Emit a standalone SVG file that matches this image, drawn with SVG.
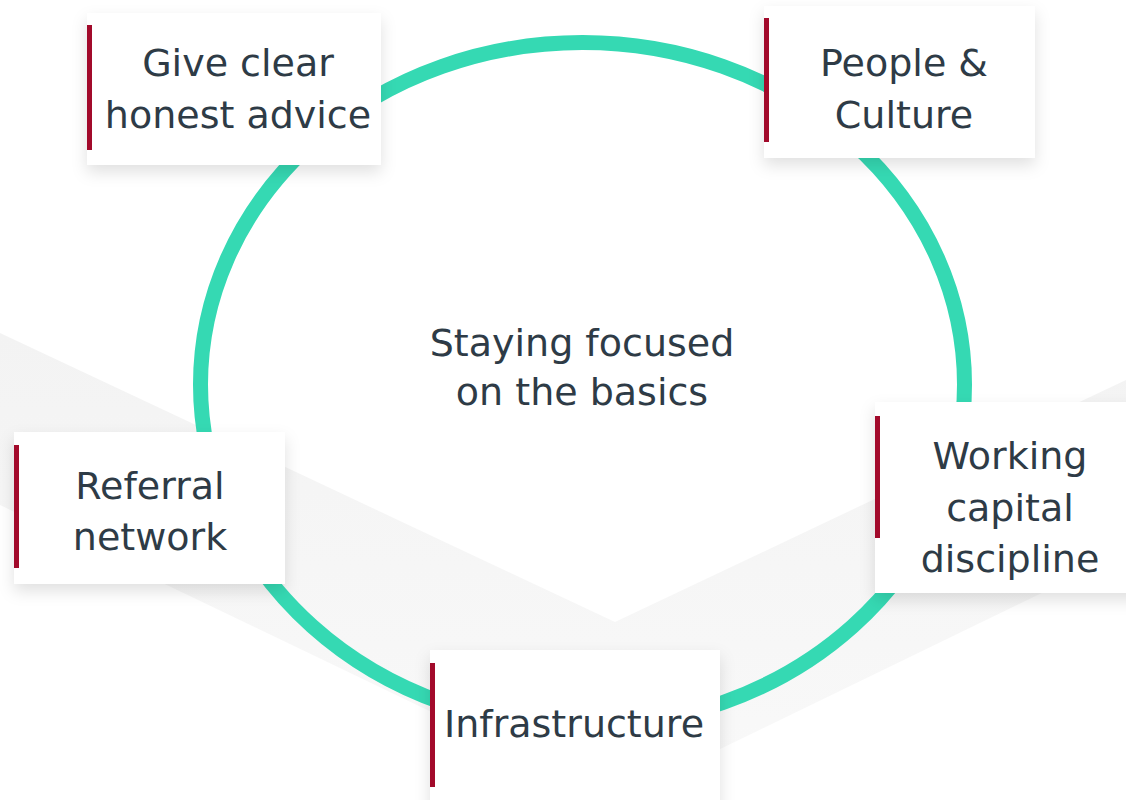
<svg xmlns="http://www.w3.org/2000/svg" width="1126" height="800" viewBox="0 0 1126 800">
  <defs>
    <filter id="shadow" x="-20%" y="-20%" width="140%" height="150%">
      <feDropShadow dx="0" dy="7" stdDeviation="8" flood-color="#000" flood-opacity="0.12"/>
    </filter>
    <linearGradient id="bg" x1="0" y1="0" x2="0" y2="1">
      <stop offset="0" stop-color="#f3f3f3"/>
      <stop offset="1" stop-color="#f9f9f9"/>
    </linearGradient>
  </defs>
  <style>
    .box { fill: #ffffff; filter: url(#shadow); }
    .bar { fill: #a20a2b; }
    .lbl { font-family: "DejaVu Sans", "Liberation Sans", sans-serif; font-size: 38px; fill: #2e3b46; text-anchor: middle; }
    .ring { fill: none; stroke: #35d9b3; stroke-width: 15; }
  </style>
  <rect x="0" y="0" width="1126" height="800" fill="#ffffff"/>
  <g id="background">
    <polygon points="0,333 615,622 1126,380 1126,552 615,800 0,505" fill="url(#bg)"/>
  </g>
  <g id="connectors">
    <ellipse class="ring" cx="582.5" cy="384.5" rx="382" ry="342"/>
  </g>
  <g id="center">
    <text class="lbl" x="582" y="356">Staying focused</text>
    <text class="lbl" x="582" y="405">on the basics</text>
  </g>
  <g id="node-advice">
    <rect class="box" x="87" y="13" width="294" height="152"/>
    <rect class="bar" x="87" y="25" width="5" height="125"/>
    <text class="lbl" x="238" y="76">Give clear</text>
    <text class="lbl" x="238" y="128">honest advice</text>
  </g>
  <g id="node-people">
    <rect class="box" x="764" y="6" width="271" height="152"/>
    <rect class="bar" x="764" y="18" width="5" height="124"/>
    <text class="lbl" x="904" y="76">People &amp;</text>
    <text class="lbl" x="904" y="128">Culture</text>
  </g>
  <g id="node-referral">
    <rect class="box" x="14" y="432" width="271" height="152"/>
    <rect class="bar" x="14" y="445" width="5" height="123"/>
    <text class="lbl" x="150" y="499">Referral</text>
    <text class="lbl" x="150" y="550">network</text>
  </g>
  <g id="node-working">
    <rect class="box" x="875" y="402" width="270" height="191"/>
    <rect class="bar" x="875" y="416" width="5" height="122"/>
    <text class="lbl" x="1010" y="469">Working</text>
    <text class="lbl" x="1010" y="521">capital</text>
    <text class="lbl" x="1010" y="572">discipline</text>
  </g>
  <g id="node-infra">
    <rect class="box" x="430" y="650" width="290" height="160"/>
    <rect class="bar" x="430" y="663" width="5" height="124"/>
    <text class="lbl" x="574" y="737">Infrastructure</text>
  </g>
</svg>
